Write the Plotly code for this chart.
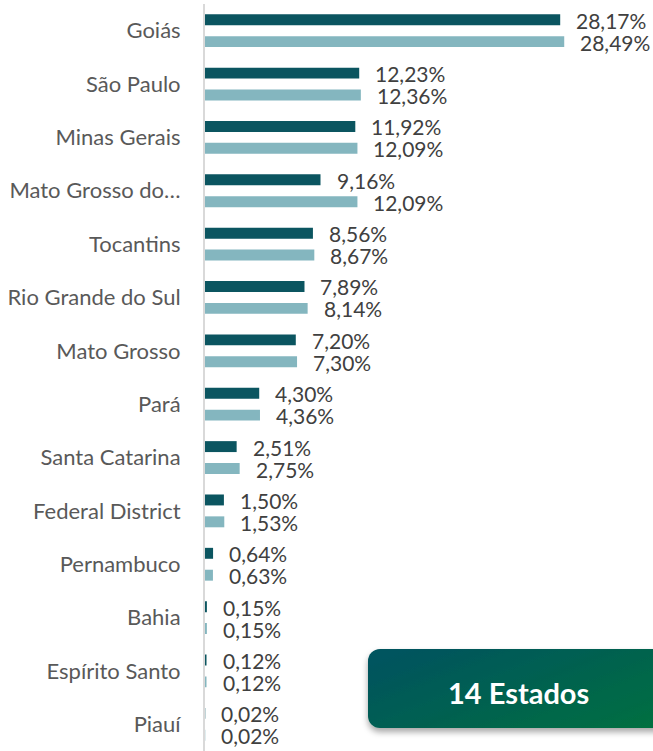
import base64
import plotly.graph_objects as go

states = ["Goiás", "São Paulo", "Minas Gerais", "Mato Grosso do…", "Tocantins",
          "Rio Grande do Sul", "Mato Grosso", "Pará", "Santa Catarina",
          "Federal District", "Pernambuco", "Bahia", "Espírito Santo", "Piauí"]
series_a = [28.17, 12.23, 11.92, 9.16, 8.56, 7.89, 7.20, 4.30, 2.51, 1.50, 0.64, 0.15, 0.12, 0.02]
series_b = [28.49, 12.36, 12.09, 12.09, 8.67, 8.14, 7.30, 4.36, 2.75, 1.53, 0.63, 0.15, 0.12, 0.02]
box_label = "14 Estados"

DARK = "#0B5560"
LIGHT = "#84B6BF"
FONT = "Lato"

def fmt(v):
    return f"{v:.2f}".replace(".", ",") + "%"

fig = go.Figure()
fig.add_trace(go.Bar(y=states, x=series_a, orientation="h", marker_color=DARK,
                     marker_line_width=0, hoverinfo="skip"))
fig.add_trace(go.Bar(y=states, x=series_b, orientation="h", marker_color=LIGHT,
                     marker_line_width=0, hoverinfo="skip"))

annotations = []
for s, a, b in zip(states, series_a, series_b):
    for v, shift in ((a, 10.5), (b, -11.5)):
        annotations.append(dict(x=v, y=s, xref="x", yref="y", text=fmt(v),
                                showarrow=False, xanchor="left", yanchor="middle",
                                xshift=14, yshift=shift,
                                font=dict(family=FONT, size=21, color="#404040")))

annotations.append(dict(x=(518 - 205) / 448, y=(751 - 692) / 747, xref="paper", yref="paper",
                        text=f"<b>{box_label}</b>", showarrow=False,
                        xanchor="center", yanchor="middle",
                        font=dict(family=FONT, size=29, color="white")))

svg = """<svg xmlns='http://www.w3.org/2000/svg' width='320' height='100' viewBox='0 0 320 100'>
<defs>
<linearGradient id='g' x1='0' y1='0.2' x2='1' y2='0.8'>
<stop offset='0' stop-color='#00545E'/>
<stop offset='1' stop-color='#007040'/>
</linearGradient>
<filter id='f' x='-10%' y='-20%' width='130%' height='150%'>
<feDropShadow dx='0' dy='4' stdDeviation='3' flood-color='#000' flood-opacity='0.35'/>
</filter>
</defs>
<rect x='8' y='8' width='330' height='79' rx='12' ry='12' fill='url(#g)' filter='url(#f)'/>
</svg>"""
src = "data:image/svg+xml;base64," + base64.b64encode(svg.encode()).decode()

fig.update_layout(
    width=653, height=751,
    margin=dict(l=205, r=0, t=4, b=0),
    paper_bgcolor="white", plot_bgcolor="white",
    barmode="group", bargap=0.18, bargroupgap=0.5,
    showlegend=False,
    annotations=annotations,
    images=[dict(source=src, xref="paper", yref="paper",
                 x=(360 - 205) / 448, y=(751 - 641) / 747,
                 sizex=320 / 448, sizey=100 / 747,
                 xanchor="left", yanchor="top", sizing="stretch", layer="above")],
    xaxis=dict(visible=False, range=[0, 35.53], fixedrange=True),
    yaxis=dict(autorange=False, range=[13.5, -0.5], showline=True, linecolor="#D9D9D9",
               linewidth=2, showgrid=False, zeroline=False, ticks="",
               ticklabelstandoff=18, fixedrange=True,
               tickfont=dict(family=FONT, size=22, color="#595959")),
)

fig.write_html("out.html", config={"displayModeBar": False, "staticPlot": True},
               post_script="document.body.style.margin='0';document.body.style.overflow='hidden';")
